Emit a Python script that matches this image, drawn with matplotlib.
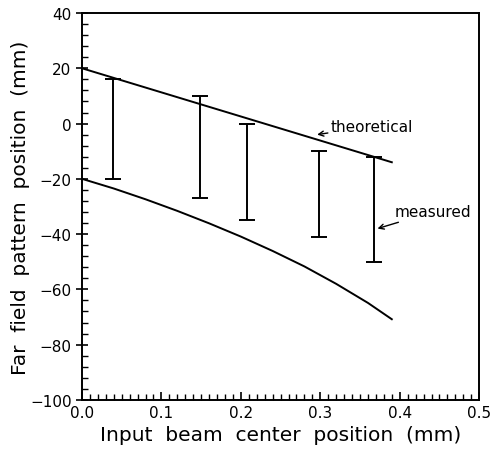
import numpy as np
import matplotlib
matplotlib.use("Agg")
import matplotlib.pyplot as plt
from matplotlib.ticker import MultipleLocator

# theoretical straight line
theo_x = [0.0, 0.39]
theo_y = [20.0, -14.0]

# lower curve
curve_x = [0.0, 0.04, 0.08, 0.12, 0.16, 0.2, 0.24, 0.28, 0.32, 0.36, 0.39]
curve_y = [-20.0, -23.5, -27.4, -31.6, -36.1, -40.9, -46.1, -51.7, -58.0, -64.9, -70.8]

# measured ranges (error bars)
meas_x = [0.039, 0.149, 0.208, 0.298, 0.368]
meas_top = [16.0, 10.0, 0.0, -10.0, -12.0]
meas_bot = [-20.0, -27.0, -35.0, -41.0, -50.0]

plt.rcParams['font.family'] = ['DejaVu Sans']

fig = plt.figure(figsize=(4.94, 4.52), dpi=100)
ax = fig.add_axes([0.166, 0.113, 0.804, 0.856])

ax.plot(theo_x, theo_y, color='black', lw=1.4)
ax.plot(curve_x, curve_y, color='black', lw=1.4)

mid = [(t + b) / 2 for t, b in zip(meas_top, meas_bot)]
half = [(t - b) / 2 for t, b in zip(meas_top, meas_bot)]
ax.errorbar(meas_x, mid, yerr=half, fmt='none', ecolor='black',
            elinewidth=1.4, capsize=5.5, capthick=1.4)

arrow = dict(arrowstyle='->', color='black', lw=1, shrinkA=0, shrinkB=0,
             mutation_scale=9)
ax.annotate('theoretical', xy=(0.296, -4), xytext=(0.313, -1),
            fontsize=11, va='center', ha='left', arrowprops=arrow)
ax.annotate('measured', xy=(0.372, -38), xytext=(0.393, -32),
            fontsize=11, va='center', ha='left', arrowprops=arrow)

ax.set_xlim(0, 0.5)
ax.set_ylim(-100, 40)
ax.xaxis.set_major_locator(MultipleLocator(0.1))
ax.xaxis.set_minor_locator(MultipleLocator(0.01))
ax.yaxis.set_major_locator(MultipleLocator(20))
ax.yaxis.set_minor_locator(MultipleLocator(4))
ax.xaxis.set_major_formatter(plt.FuncFormatter(lambda v, p: f"{v:.1f}"))
ax.yaxis.set_major_formatter(plt.FuncFormatter(lambda v, p: f"{v:.0f}".replace('-', '\u2212')))

ax.tick_params(axis='both', which='major', direction='inout', length=8,
               width=1.2, labelsize=11)
ax.tick_params(axis='both', which='minor', direction='in', length=4, width=1)
ax.tick_params(axis='x', which='major', direction='in', length=6, pad=4)
for s in ax.spines.values():
    s.set_linewidth(1.4)

ax.set_xlabel('Input  beam  center  position  (mm)', fontsize=14.5, labelpad=3)
ax.set_ylabel('Far  field  pattern  position  (mm)', fontsize=14.5, labelpad=0)

fig.savefig('out.png', dpi=100)
